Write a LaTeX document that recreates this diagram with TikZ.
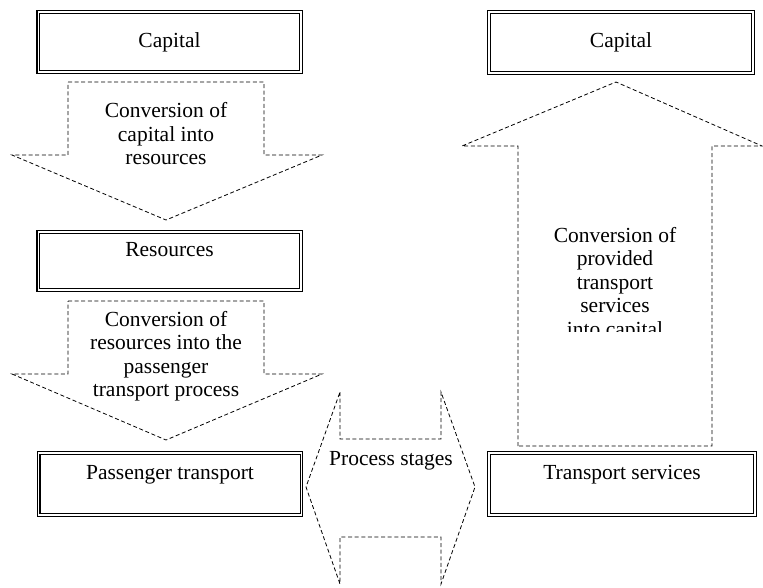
\documentclass[tikz,border=0pt]{standalone}
\usepackage{fontspec}
\setmainfont{Liberation Serif}
\usepackage{tikz}

\begin{document}
\begin{tikzpicture}[x=1pt,y=-1pt,
  stagebox/.style={draw, double, double distance=1.4pt, line width=1.1pt,
    inner sep=0pt, align=center, font=\fontsize{21.5}{23.5}\selectfont},
  blockarrow/.style={draw, dash pattern=on 4pt off 2.6pt, line width=0.8pt},
  arrowtext/.style={align=center, inner sep=0pt, font=\fontsize{21.5}{23.5}\selectfont}]
\useasboundingbox (0,0) rectangle (763,587);
% stage boxes
\node [stagebox, minimum width=262.6pt, minimum height=60.2pt] (capL) at (169.5,42) {Capital};
\node [stagebox, minimum width=262.6pt, minimum height=58.2pt] (res) at (169.5,261) {Resources\\~};
\node [stagebox, minimum width=262.6pt, minimum height=62.2pt] (pass) at (170,484) {Passenger transport\\~};
\node [stagebox, minimum width=264.2pt, minimum height=61.2pt] (capR) at (621,42.5) {Capital};
\node [stagebox, minimum width=266.2pt, minimum height=62.2pt] (serv) at (622,484) {Transport services\\~};
% down arrows
\draw [blockarrow]
(68,82) -- (264,82) -- (264,155) -- (322,155) -- (166,220) -- (12,155) -- (68,155) -- cycle;
\node [arrowtext] (conv1) at (166,134) {Conversion of\\capital into\\resources};
\draw [blockarrow]
(68,301) -- (264,301) -- (264,374) -- (322,374) -- (166,440) -- (12,374) -- (68,374) -- cycle;
\node [arrowtext] (conv2) at (166,356) {Conversion of\\resources into the\\passenger\\transport process};
% up arrow
\draw [blockarrow]
(518,446) -- (518,146) -- (462,146) -- (616,82) -- (762,146) -- (712,146) -- (712,446) -- cycle;
\begin{scope}
\clip (520,150) rectangle (710,331);
\node [arrowtext] (conv3) at (615,284) {Conversion of\\provided\\transport\\services\\into capital};
\end{scope}
% process stages
\draw [blockarrow]
(340,392) -- (340,439) -- (441,439) -- (441,392) -- (475,487) -- (441,584)
-- (441,537) -- (340,537) -- (340,584) -- (306,487) -- cycle;
\node [arrowtext] (stages) at (391,461) {Process stages};
\end{tikzpicture}
\end{document}
